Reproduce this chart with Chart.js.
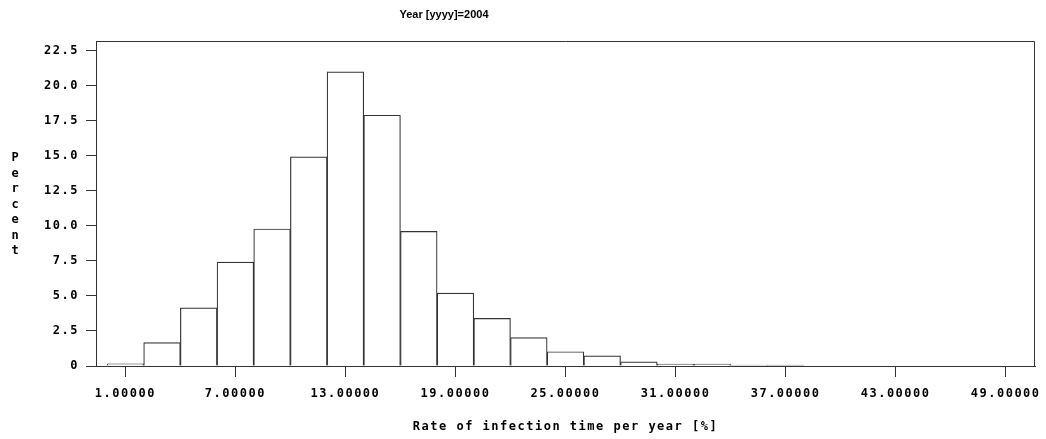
<!DOCTYPE html>
<html>
<head>
<meta charset="utf-8">
<script src="https://cdn.jsdelivr.net/npm/chart.js@4/dist/chart.umd.min.js"></script>
<style>
  html, body { margin: 0; padding: 0; background: #fff; }
  canvas { display: block; }
</style>
</head>
<body>
<canvas id="c" width="1046" height="439"></canvas>
<script>
// Histogram bins (midpoints, width 2) and the share of records in each bin
const binCenters = [1, 3, 5, 7, 9, 11, 13, 15, 17, 19, 21, 23, 25, 27, 29, 31, 33, 35, 37];
const percents   = [0.15, 1.67, 4.15, 7.42, 9.78, 14.93, 21.0, 17.9, 9.61, 5.21, 3.4, 2.02, 1.02, 0.72, 0.29, 0.14, 0.14, 0.07, 0.06];

const xTickValues = [1, 7, 13, 19, 25, 31, 37, 43, 49];
const xTickLabels = ['1.00000', '7.00000', '13.00000', '19.00000', '25.00000', '31.00000', '37.00000', '43.00000', '49.00000'];
const yTickValues = [0, 2.5, 5, 7.5, 10, 12.5, 15, 17.5, 20, 22.5];
const yTickLabels = ['0', '2.5', '5.0', '7.5', '10.0', '12.5', '15.0', '17.5', '20.0', '22.5'];

const byLine = 'Year [yyyy]=2004';
const yTitle = 'Percent';
const xTitle = 'Rate of infection time per year [%]';

const MONO = '"DejaVu Sans Mono", monospace';
const INK = '#000';
const LINE = '#333';

// Wide-set monospace lettering for axis text
const spacing = {
  id: 'spacing',
  beforeLayout(chart) { chart.ctx.letterSpacing = '1.5px'; },
  beforeDraw(chart) { chart.ctx.letterSpacing = '1.5px'; }
};

// Frame around the plot, BY-line above it, stacked vertical axis label
const decorations = {
  id: 'decorations',
  afterDraw(chart) {
    const { ctx, chartArea: a } = chart;
    ctx.save();
    ctx.strokeStyle = LINE;
    ctx.lineWidth = 1;
    ctx.beginPath();
    ctx.moveTo(a.left + 0.5, a.top + 0.5);
    ctx.lineTo(a.right - 0.5, a.top + 0.5);
    ctx.lineTo(a.right - 0.5, a.bottom);
    ctx.stroke();

    ctx.fillStyle = INK;
    ctx.letterSpacing = '0px';
    ctx.font = 'bold 11px "Liberation Sans", Arial, sans-serif';
    ctx.textAlign = 'center';
    ctx.textBaseline = 'middle';
    ctx.fillText(byLine, 444, 15);

    ctx.font = 'bold 12px ' + MONO;
    [...yTitle].forEach((ch, i) => ctx.fillText(ch, 15, 158 + i * 15.5));
    ctx.restore();
  }
};

new Chart(document.getElementById('c'), {
  type: 'bar',
  data: {
    datasets: [{
      data: binCenters.map((x, i) => ({ x, y: percents[i] })),
      backgroundColor: '#fff',
      borderColor: '#333',
      borderWidth: 1.2,
      barPercentage: 1,
      categoryPercentage: 1,
      grouped: false
    }]
  },
  options: {
    responsive: false,
    devicePixelRatio: 1,
    animation: false,
    events: [],
    layout: { padding: { top: 41, right: 11, left: 0, bottom: 0 } },
    plugins: {
      legend: { display: false },
      tooltip: { enabled: false },
      title: { display: false }
    },
    scales: {
      x: {
        type: 'linear',
        offset: false,
        min: -0.6,
        max: 50.6,
        afterBuildTicks(scale) { scale.ticks = xTickValues.map(v => ({ value: v })); },
        afterFit(scale) {
          scale.height = 73;
          scale.paddingLeft = 0;
          scale.paddingRight = 0;
        },
        ticks: {
          autoSkip: false,
          maxRotation: 0,
          padding: 10,
          color: INK,
          font: { family: MONO, size: 12, weight: 'bold' },
          callback: v => xTickLabels[xTickValues.indexOf(v)]
        },
        grid: { display: true, offset: false, drawOnChartArea: false, drawTicks: true, tickLength: 11, color: LINE },
        border: { display: true, color: LINE, width: 1 },
        title: {
          display: true,
          text: xTitle,
          color: INK,
          font: { family: MONO, size: 12, weight: 'bold' },
          padding: { top: 0, bottom: 5 }
        }
      },
      y: {
        type: 'linear',
        min: 0,
        max: 23.2,
        afterBuildTicks(scale) { scale.ticks = yTickValues.map(v => ({ value: v })); },
        afterFit(scale) {
          scale.width = 96;
          scale.paddingTop = 0;
          scale.paddingBottom = 0;
        },
        ticks: {
          padding: 7,
          color: INK,
          font: { family: MONO, size: 12, weight: 'bold' },
          callback: v => yTickLabels[yTickValues.indexOf(v)]
        },
        grid: { display: true, drawOnChartArea: false, drawTicks: true, tickLength: 10, color: LINE },
        border: { display: true, color: LINE, width: 1 }
      }
    }
  },
  plugins: [spacing, decorations]
});
</script>
</body>
</html>
